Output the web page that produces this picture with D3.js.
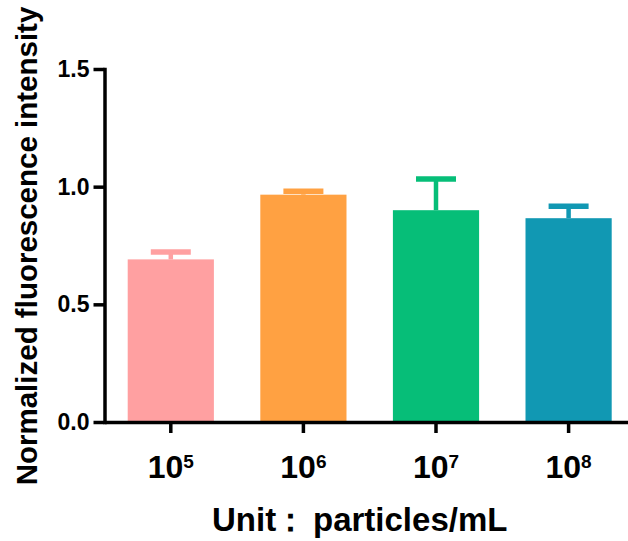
<!DOCTYPE html>
<html>
<head>
<meta charset="utf-8">
<script src="https://cdn.jsdelivr.net/npm/d3@7"></script>
<style>
  body { margin: 0; background: #fff; }
  svg { display: block; font-family: "Liberation Sans", Arial, sans-serif; }
</style>
</head>
<body>
<div id="chart"></div>
<script>
// exponents of the concentration (10^n particles/mL)
const exponents = ["5", "6", "7", "8"];
const means = [0.691, 0.966, 0.900, 0.866];
const errors = [0.031, 0.014, 0.133, 0.051];
const colours = ["#FFA0A1", "#FFA142", "#06BE78", "#1198B3"];
const yTicks = [0, 0.5, 1.0, 1.5];

const width = 628, height = 541;
const axisX = 104.5, axisY = 422;

const svg = d3.select("#chart")
    .append("svg")
    .attr("width", width)
    .attr("height", height);

const x = d3.scaleBand()
    .domain(exponents)
    .range([axisX, axisX + 4 * 132.6])
    .paddingInner(0.35)
    .paddingOuter(0.175);

const y = d3.scaleLinear()
    .domain([0, 1.5])
    .range([axisY, 69]);

const data = exponents.map((e, i) => ({ e, mean: means[i], err: errors[i], colour: colours[i] }));

// bars
svg.append("g")
    .selectAll("rect")
    .data(data)
    .join("rect")
    .attr("x", (d) => x(d.e))
    .attr("width", x.bandwidth())
    .attr("y", (d) => y(d.mean))
    .attr("height", (d) => y(0) - y(d.mean))
    .attr("fill", (d) => d.colour);

// error bars (upper only)
const errG = svg.append("g")
    .selectAll("g")
    .data(data)
    .join("g")
    .attr("stroke", (d) => d.colour);

errG.append("line")
    .attr("x1", (d) => x(d.e) + x.bandwidth() / 2)
    .attr("x2", (d) => x(d.e) + x.bandwidth() / 2)
    .attr("y1", (d) => y(d.mean))
    .attr("y2", (d) => y(d.mean + d.err))
    .attr("stroke-width", 4.5);

errG.append("line")
    .attr("x1", (d) => x(d.e) + x.bandwidth() / 2 - 20)
    .attr("x2", (d) => x(d.e) + x.bandwidth() / 2 + 20)
    .attr("y1", (d) => y(d.mean + d.err))
    .attr("y2", (d) => y(d.mean + d.err))
    .attr("stroke-width", 5.5);

// y axis
const yAxis = svg.append("g")
    .attr("transform", "translate(" + axisX + ",0)")
    .call(d3.axisLeft(y).tickValues(yTicks).tickFormat(d3.format(".1f")).tickSize(11).tickSizeOuter(0).tickPadding(4));

yAxis.selectAll("path, line").attr("stroke", "#000").attr("stroke-width", 3.5);
yAxis.select(".domain").attr("stroke-linecap", "square");
yAxis.selectAll("text")
    .attr("font-size", 23)
    .attr("font-weight", "bold")
    .attr("font-family", "Liberation Sans, Arial, sans-serif")
    .attr("fill", "#000");

// x axis
const xAxis = svg.append("g")
    .attr("transform", "translate(0," + axisY + ")")
    .call(d3.axisBottom(x).tickSize(11).tickSizeOuter(0));

xAxis.selectAll("path, line").attr("stroke", "#000").attr("stroke-width", 3.5);
xAxis.selectAll(".tick text").each(function (d) {
    const t = d3.select(this)
        .text(null)
        .attr("y", 56)
        .attr("dy", null)
        .attr("font-size", 32)
        .attr("font-weight", "bold")
        .attr("font-family", "Liberation Sans, Arial, sans-serif")
        .attr("fill", "#000");
    t.append("tspan").text("10");
    t.append("tspan").attr("font-size", 19).attr("dy", -10).text(d);
});

// axis titles
svg.append("text")
    .attr("transform", "translate(37,246) rotate(-90)")
    .attr("text-anchor", "middle")
    .attr("font-size", 29.5)
    .attr("font-weight", "bold")
    .text("Normalized fluorescence intensity");

const xTitle = svg.append("text")
    .attr("y", 531)
    .attr("font-size", 33)
    .attr("font-weight", "bold");
xTitle.append("tspan").attr("x", 212).text("Unit");
xTitle.append("tspan").attr("x", 274).text("：");
xTitle.append("tspan").attr("x", 313).text("particles/mL");
</script>
</body>
</html>
